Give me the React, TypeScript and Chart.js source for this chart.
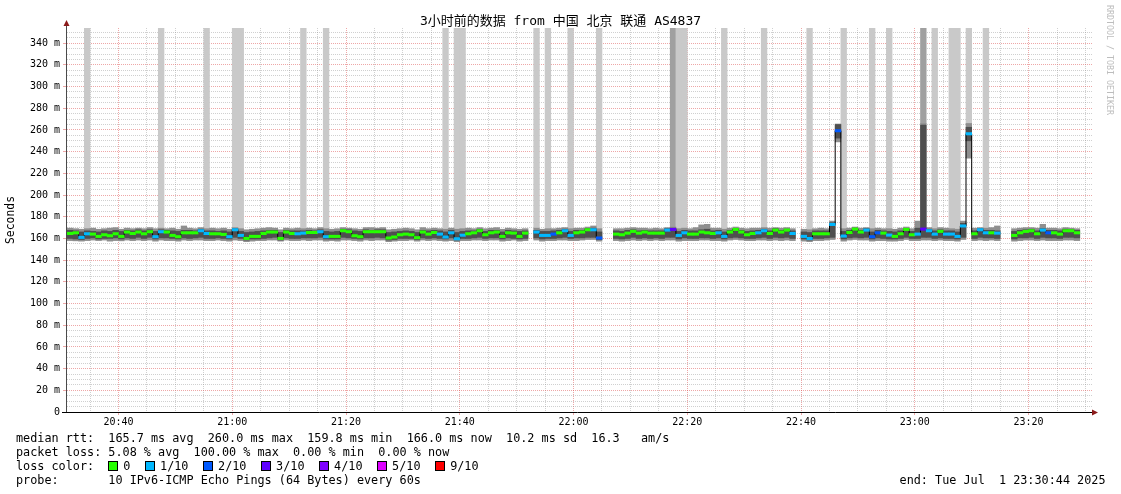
import React, { useEffect, useRef } from 'react';
import { Chart, registerables } from 'chart.js';

Chart.register(...registerables);

// ---------- data (one entry per 1-minute step, first step = minute 1 after 20:30) ----------
const FIRST_STEP = 1;

const MEDIAN: (number | null)[] = [
  164.6, 165.2, 161.0, 164.3, 164.0, 161.9, 163.4, 162.5, 164.3, 161.9,
  165.9, 164.6, 165.9, 164.3, 166.2, 161.6, 166.2, 165.9, 162.8, 161.6,
  165.2, 165.2, 165.2, 167.1, 164.6, 164.3, 164.3, 163.7, 161.6, 168.0,
  162.8, 160.0, 161.9, 161.9, 164.6, 165.9, 165.9, 160.0, 165.9, 164.6,
  164.3, 164.9, 165.5, 165.5, 166.2, 161.6, 161.9, 161.9, 167.1, 166.2,
  162.5, 161.6, 166.2, 166.2, 166.2, 166.2, 160.4, 161.3, 163.4, 164.0,
  163.4, 160.7, 165.9, 164.0, 165.5, 164.0, 161.3, 165.2, 159.7, 163.0,
  164.3, 165.2, 167.1, 163.4, 165.2, 165.9, 161.9, 165.2, 164.9, 161.9,
  164.9, null, 165.9, 162.8, 162.8, 164.0, 165.2, 167.1, 162.8, 165.2,
  165.9, 168.0, 168.0, 160.4, null, null, 164.0, 163.4, 164.9, 166.5,
  164.9, 165.9, 164.9, 164.9, 164.9, 167.7, 168.3, 162.8, 165.2, 164.0,
  164.0, 165.9, 165.2, 164.6, 165.2, 161.9, 165.9, 168.3, 165.9, 163.4,
  164.6, 165.2, 167.1, 164.6, 167.7, 165.9, 167.7, 164.6, null, 161.9,
  159.9, 164.3, 164.3, 164.3, 172.9, 259.3, 162.2, 165.5, 168.6, 165.9,
  167.7, 161.6, 165.2, 164.9, 163.1, 161.9, 164.3, 168.3, 163.4, 164.0,
  168.6, 167.1, 164.0, 166.5, 164.0, 164.0, 161.9, 171.5, 256.5, 164.3,
  168.0, 165.2, 165.2, 164.9, null, null, 162.8, 165.2, 166.5, 167.1,
  164.3, 167.7, 165.2, 165.2, 164.0, 167.1, 167.1, 165.2,
];

// lost pings per step (0..10)
const LOSS: number[] = [
  0, 0, 1, 1, 0, 0, 0, 0, 0, 0,
  0, 0, 0, 0, 0, 1, 1, 0, 0, 0,
  0, 0, 0, 1, 1, 0, 0, 0, 1, 1,
  1, 0, 0, 0, 0, 0, 0, 0, 0, 0,
  1, 1, 0, 0, 1, 1, 0, 0, 0, 0,
  0, 0, 0, 0, 0, 0, 0, 0, 0, 0,
  0, 0, 0, 0, 0, 1, 1, 1, 1, 1,
  0, 0, 0, 0, 0, 0, 0, 0, 0, 0,
  0, 0, 1, 1, 1, 2, 0, 1, 1, 0,
  0, 0, 1, 2, 0, 0, 0, 0, 0, 0,
  0, 0, 0, 0, 0, 1, 3, 1, 1, 0,
  0, 0, 0, 0, 1, 1, 0, 0, 0, 0,
  0, 1, 1, 0, 0, 0, 0, 1, 0, 1,
  1, 0, 0, 0, 1, 2, 1, 0, 0, 0,
  1, 2, 2, 0, 1, 0, 0, 0, 0, 1,
  3, 1, 1, 0, 1, 1, 1, 1, 1, 0,
  1, 1, 0, 1, 0, 0, 0, 0, 0, 0,
  0, 1, 2, 0, 0, 0, 0, 0,
];

// full-height smoke of lost pings (0 none, 1 light, 2 darker)
const LOST_SMOKE: number[] = [
  0, 0, 0, 1, 0, 0, 0, 0, 0, 0,
  0, 0, 0, 0, 0, 0, 1, 0, 0, 0,
  0, 0, 0, 0, 1, 0, 0, 0, 0, 1,
  1, 0, 0, 0, 0, 0, 0, 0, 0, 0,
  0, 1, 0, 0, 0, 1, 0, 0, 0, 0,
  0, 0, 0, 0, 0, 0, 0, 0, 0, 0,
  0, 0, 0, 0, 0, 0, 1, 0, 1, 1,
  0, 0, 0, 0, 0, 0, 0, 0, 0, 0,
  0, 0, 1, 0, 1, 0, 0, 0, 1, 0,
  0, 0, 0, 1, 0, 0, 0, 0, 0, 0,
  0, 0, 0, 0, 0, 0, 2, 1, 1, 0,
  0, 0, 0, 0, 0, 1, 0, 0, 0, 0,
  0, 0, 1, 0, 0, 0, 0, 0, 0, 0,
  1, 0, 0, 0, 0, 0, 1, 0, 0, 0,
  0, 1, 0, 0, 1, 0, 0, 0, 0, 0,
  2, 0, 1, 0, 0, 1, 1, 0, 1, 0,
  0, 1, 0, 0, 0, 0, 0, 0, 0, 0,
  0, 0, 0, 0, 0, 0, 0, 0,
];

const SMOKE_MIN: (number | null)[] = [
  158.0, 157.8, 157.5, 158.0, 158.5, 158.0, 158.5, 157.5, 158.0, 157.8,
  158.5, 158.0, 158.5, 158.0, 158.5, 157.5, 158.5, 158.0, 158.0, 157.5,
  158.5, 158.0, 158.5, 158.5, 158.0, 158.0, 158.5, 158.0, 157.5, 158.5,
  158.0, 157.0, 157.5, 158.0, 158.0, 158.5, 158.5, 157.5, 158.5, 158.0,
  158.0, 158.5, 158.0, 158.5, 158.5, 157.5, 158.0, 157.5, 158.5, 158.5,
  158.0, 157.5, 158.5, 158.0, 158.5, 158.5, 157.0, 157.5, 158.0, 158.0,
  158.5, 157.5, 158.5, 158.0, 158.5, 158.0, 157.5, 158.0, 157.0, 158.0,
  158.0, 158.5, 158.5, 158.0, 158.5, 158.5, 157.5, 158.0, 158.5, 157.5,
  158.0, null, 158.5, 157.5, 158.0, 158.0, 158.5, 158.5, 158.0, 158.0,
  158.5, 159.0, 159.0, 157.5, null, null, 158.0, 157.5, 158.0, 158.5,
  158.0, 158.5, 158.0, 158.5, 158.0, 158.5, 158.5, 157.5, 158.0, 158.0,
  158.0, 158.5, 158.5, 158.0, 158.0, 157.5, 158.5, 159.0, 158.5, 158.0,
  158.0, 158.5, 158.5, 158.0, 158.5, 158.0, 158.5, 158.0, null, 157.5,
  157.0, 158.0, 158.0, 158.5, 159.0, 249.0, 157.5, 158.5, 159.0, 158.5,
  158.5, 157.5, 158.0, 158.0, 157.5, 157.5, 158.0, 159.0, 158.0, 158.0,
  158.5, 158.5, 158.0, 158.5, 158.0, 158.0, 157.5, 159.0, 234.0, 158.0,
  158.5, 158.0, 158.5, 158.0, null, null, 157.5, 158.0, 158.5, 158.5,
  158.0, 158.5, 158.0, 158.0, 158.0, 158.5, 158.5, 158.0,
];

const SMOKE_MAX: (number | null)[] = [
  169.5, 169.0, 168.5, 169.0, 169.5, 168.5, 169.0, 169.5, 170.0, 168.5,
  169.5, 169.0, 169.5, 169.0, 170.0, 169.0, 169.5, 169.0, 169.5, 168.5,
  171.5, 169.5, 169.0, 170.0, 169.0, 169.5, 169.0, 169.5, 168.5, 170.0,
  169.0, 168.0, 168.5, 169.0, 169.5, 170.0, 169.5, 168.0, 169.5, 169.0,
  169.5, 169.0, 169.5, 169.0, 170.0, 169.0, 168.5, 169.0, 170.0, 169.5,
  169.0, 168.5, 170.0, 170.0, 169.5, 170.0, 168.0, 168.5, 169.0, 169.5,
  169.0, 168.0, 170.0, 169.0, 169.5, 169.0, 168.5, 169.5, 168.5, 169.0,
  169.5, 169.0, 170.0, 169.0, 169.5, 170.0, 168.5, 169.5, 169.0, 168.5,
  169.0, null, 169.5, 168.5, 169.0, 169.0, 169.5, 170.0, 169.0, 169.5,
  169.5, 170.5, 171.5, 169.0, null, null, 169.0, 169.0, 169.5, 170.0,
  169.5, 169.5, 169.0, 169.5, 169.0, 170.0, 170.5, 169.0, 169.5, 169.0,
  170.0, 172.5, 173.0, 169.5, 169.5, 168.5, 169.5, 170.5, 169.5, 169.0,
  169.5, 169.5, 170.0, 169.5, 170.0, 169.5, 170.0, 169.0, null, 168.5,
  168.0, 169.0, 169.5, 169.0, 176.0, 265.5, 169.0, 169.5, 170.5, 169.5,
  170.0, 169.0, 169.5, 169.0, 169.0, 168.5, 169.5, 170.5, 169.0, 176.0,
  266.0, 170.0, 169.0, 170.0, 169.5, 169.0, 168.5, 176.0, 266.0, 169.5,
  170.0, 169.5, 170.0, 171.5, null, null, 169.0, 169.5, 170.0, 170.0,
  169.5, 173.0, 169.5, 169.5, 169.0, 170.0, 169.5, 169.0,
];

const CORE_MIN: (number | null)[] = [
  160.0, 159.5, 159.0, 160.0, 160.5, 159.5, 160.0, 160.0, 160.5, 159.5,
  160.5, 160.0, 161.0, 160.0, 161.0, 159.5, 160.5, 160.5, 160.0, 159.5,
  160.5, 160.0, 160.5, 161.0, 160.0, 160.0, 160.5, 160.0, 159.5, 161.0,
  160.0, 158.5, 159.5, 159.5, 160.0, 160.5, 161.0, 158.5, 160.5, 160.0,
  160.0, 160.5, 160.5, 160.5, 161.0, 159.5, 159.5, 159.5, 161.0, 160.5,
  160.0, 159.5, 160.5, 160.5, 161.0, 160.5, 158.5, 159.0, 160.0, 160.0,
  160.0, 159.0, 160.5, 160.0, 160.5, 160.0, 159.5, 160.5, 158.5, 160.0,
  160.0, 160.5, 161.0, 160.0, 160.5, 160.5, 159.5, 160.5, 160.0, 159.5,
  160.0, null, 160.5, 159.5, 160.0, 160.0, 160.5, 161.0, 160.0, 160.5,
  160.5, 161.0, 161.0, 159.0, null, null, 160.0, 159.5, 160.0, 161.0,
  160.0, 160.5, 160.0, 160.5, 160.0, 161.0, 161.0, 159.5, 160.5, 160.0,
  160.0, 160.5, 160.5, 160.0, 160.5, 159.5, 160.5, 161.0, 160.5, 160.0,
  160.0, 160.5, 161.0, 160.0, 161.0, 160.5, 161.0, 160.0, null, 159.5,
  158.5, 160.0, 160.0, 160.5, 161.0, 252.5, 159.5, 160.5, 161.0, 160.5,
  161.0, 159.5, 160.5, 160.0, 159.5, 159.5, 160.0, 161.0, 160.0, 160.0,
  161.0, 161.0, 160.0, 160.5, 160.0, 160.0, 159.5, 161.0, 250.0, 160.0,
  161.0, 160.5, 160.5, 160.0, null, null, 159.5, 160.5, 160.5, 161.0,
  160.0, 161.0, 160.5, 160.5, 160.0, 161.0, 161.0, 160.5,
];

const CORE_MAX: (number | null)[] = [
  167.5, 167.0, 166.0, 167.0, 166.5, 166.0, 167.0, 166.5, 167.5, 166.5,
  167.5, 167.0, 168.0, 167.0, 168.0, 166.5, 168.0, 167.5, 167.0, 166.5,
  167.5, 167.5, 167.0, 168.5, 167.0, 167.0, 166.5, 167.0, 166.0, 169.0,
  166.5, 165.5, 166.0, 166.5, 167.0, 167.5, 167.5, 165.5, 167.5, 167.0,
  167.0, 167.0, 167.5, 167.0, 168.0, 166.5, 166.0, 166.5, 168.5, 168.0,
  167.0, 166.5, 168.0, 167.5, 168.0, 168.0, 165.5, 166.0, 166.5, 167.0,
  166.5, 165.5, 167.5, 167.0, 167.5, 167.0, 166.0, 167.5, 165.5, 166.5,
  167.0, 167.0, 168.5, 166.5, 167.5, 167.5, 166.0, 167.5, 167.0, 166.5,
  167.0, null, 167.5, 166.5, 166.5, 167.0, 167.5, 168.5, 166.5, 167.5,
  167.5, 169.0, 169.5, 166.0, null, null, 167.0, 166.5, 167.5, 168.0,
  167.0, 167.5, 167.0, 167.0, 167.0, 169.0, 169.5, 166.5, 167.5, 167.0,
  167.0, 168.0, 168.5, 167.0, 167.5, 166.0, 167.5, 169.0, 167.5, 166.5,
  167.0, 167.5, 168.5, 167.0, 169.0, 167.5, 168.5, 167.0, null, 166.0,
  165.5, 167.0, 167.0, 167.0, 174.5, 265.0, 166.5, 167.5, 169.5, 167.5,
  169.0, 166.0, 167.5, 167.0, 166.5, 166.0, 167.0, 169.0, 166.5, 169.5,
  264.5, 168.5, 167.0, 168.0, 167.0, 167.0, 166.0, 174.0, 262.5, 167.0,
  169.0, 167.5, 167.5, 167.0, null, null, 166.5, 167.5, 168.0, 168.5,
  167.0, 169.0, 167.5, 167.5, 167.0, 168.5, 168.0, 167.5,
];

// axis: minutes after 20:30
const X_MIN = 0.95;
const X_MAX = 181.15;
const Y_MAX = 354;
const TIME_TICK_MINUTES = [10, 30, 50, 70, 90, 110, 130, 150, 170];
const TIME_TICK_LABELS = ['20:40', '21:00', '21:20', '21:40', '22:00', '22:20', '22:40', '23:00', '23:20'];

const LOSS_COLORS = ['#26ff00', '#00b8ff', '#0059ff', '#5e00ff', '#7e00ff', '#dd00ff', '#ff0000', '#ff0000', '#ff0000', '#ff0000'];
const LEGEND_LABELS = ['0', '1/10', '2/10', '3/10', '4/10', '5/10', '9/10'];
const LEGEND_COLORS = ['#26ff00', '#00b8ff', '#0059ff', '#5e00ff', '#7e00ff', '#dd00ff', '#ff0000'];

const TITLE = '3小时前的数据 from 中国 北京 联通 AS4837';
const LINE_RTT = 'median rtt:  165.7 ms avg  260.0 ms max  159.8 ms min  166.0 ms now  10.2 ms sd  16.3   am/s';
const LINE_LOSS = 'packet loss: 5.08 % avg  100.00 % max  0.00 % min  0.00 % now';
const LINE_PROBE = 'probe:       10 IPv6-ICMP Echo Pings (64 Bytes) every 60s';
const LINE_END = 'end: Tue Jul  1 23:30:44 2025';

// ---------- styles ----------
const MONO = "'DejaVu Sans Mono', monospace";
const TITLE_FONT = "'DejaVu Sans Mono', 'Noto Sans CJK SC', monospace";
const GRID = 'rgba(143,143,143,0.42)';
const MGRID = 'rgba(222,80,80,0.5)';
const SMOKE_OUTER = '#8f8f8f';
const SMOKE_CORE = '#4f4f4f';
const LOST_SHADES = ['transparent', '#c9c9c9', '#a0a0a0'];

const rrdAxes = {
  id: 'rrdAxes',
  afterDraw(chart: any) {
    const { ctx, chartArea: a } = chart;
    ctx.save();
    ctx.lineWidth = 1;
    ctx.strokeStyle = '#4a4a4a';
    ctx.beginPath();
    ctx.moveTo(a.left - 0.5, a.bottom + 1);
    ctx.lineTo(a.left - 0.5, a.top - 4);
    ctx.stroke();
    ctx.strokeStyle = '#000';
    ctx.beginPath();
    ctx.moveTo(a.left - 5, a.bottom + 0.5);
    ctx.lineTo(a.right + 1, a.bottom + 0.5);
    ctx.stroke();
    ctx.fillStyle = '#8b1a1a';
    ctx.beginPath();
    ctx.moveTo(a.left - 0.5, a.top - 8);
    ctx.lineTo(a.left - 3.5, a.top - 2);
    ctx.lineTo(a.left + 2.5, a.top - 2);
    ctx.closePath();
    ctx.fill();
    ctx.beginPath();
    ctx.moveTo(a.right + 6, a.bottom + 0.5);
    ctx.lineTo(a.right, a.bottom - 2.5);
    ctx.lineTo(a.right, a.bottom + 3.5);
    ctx.closePath();
    ctx.fill();
    ctx.restore();
  },
};

export default function App() {
  const canvasRef = useRef<HTMLCanvasElement>(null);

  useEffect(() => {
    if (!canvasRef.current) return;
    const lost: any[] = [];
    const lostColors: string[] = [];
    const outer: any[] = [];
    const core: any[] = [];
    const med: any[] = [];
    const medColors: string[] = [];
    const line: any[] = [];
    MEDIAN.forEach((m, k) => {
      const x = FIRST_STEP + k + 0.5;
      line.push({ x, y: m });
      if (m === null) return;
      outer.push({ x, y: [SMOKE_MIN[k], SMOKE_MAX[k]] });
      core.push({ x, y: [CORE_MIN[k], CORE_MAX[k]] });
      med.push({ x, y: [m - 1.1, m + 1.1] });
      medColors.push(LOSS_COLORS[LOSS[k]]);
      if (LOST_SMOKE[k]) {
        lost.push({ x, y: [SMOKE_MAX[k], Y_MAX] });
        lostColors.push(LOST_SHADES[LOST_SMOKE[k]]);
      }
    });

    const barCommon = { grouped: false, barPercentage: 1, categoryPercentage: 1, borderWidth: 0 };
    const minorX: number[] = [];
    for (let v = 5; v <= 180; v += 5) minorX.push(v);
    const minorY: number[] = [];
    for (let v = 0; v <= 350; v += 5) minorY.push(v);

    const chart = new Chart(canvasRef.current, {
      type: 'bar',
      data: {
        datasets: [
          { type: 'bar', data: lost, backgroundColor: lostColors, order: 5, ...barCommon } as any,
          { type: 'bar', data: outer, backgroundColor: SMOKE_OUTER, order: 4, ...barCommon } as any,
          { type: 'bar', data: core, backgroundColor: SMOKE_CORE, order: 3, ...barCommon } as any,
          {
            type: 'line', data: line, borderColor: '#000', borderWidth: 1, pointRadius: 0,
            stepped: 'middle', spanGaps: false, order: 2,
          } as any,
          { type: 'bar', data: med, backgroundColor: medColors, order: 1, ...barCommon } as any,
        ],
      },
      options: {
        responsive: false,
        animation: false,
        devicePixelRatio: 1,
        events: [],
        layout: { padding: { top: 28, right: 29, bottom: 0, left: 0 } },
        plugins: { legend: { display: false }, tooltip: { enabled: false }, title: { display: false } },
        scales: {
          x: {
            type: 'linear',
            min: X_MIN,
            max: X_MAX,
            offset: false,
            afterBuildTicks: (s: any) => { s.ticks = minorX.map((v) => ({ value: v })); },
            afterFit: (s: any) => { s.height = 82; },
            ticks: {
              autoSkip: false,
              maxRotation: 0,
              padding: 1.5,
              color: '#000',
              font: { family: MONO, size: 10 },
              callback: (v: any) => {
                const i = TIME_TICK_MINUTES.indexOf(Number(v));
                return i >= 0 ? TIME_TICK_LABELS[i] : '';
              },
            },
            grid: {
              offset: false,
              lineWidth: 1,
              color: (c: any) => (c.tick && c.tick.value % 20 === 10 ? MGRID : GRID),
              tickColor: (c: any) => (c.tick && c.tick.value % 20 === 10 ? MGRID : 'transparent'),
              tickLength: 3,
            },
            border: { display: false, dash: [1, 1] },
          },
          y: {
            type: 'linear',
            min: 0,
            max: Y_MAX,
            afterBuildTicks: (s: any) => { s.ticks = minorY.map((v) => ({ value: v })); },
            afterFit: (s: any) => { s.width = 67; },
            ticks: {
              autoSkip: false,
              padding: 3,
              color: '#000',
              font: { family: MONO, size: 10 },
              callback: (v: any) => {
                const n = Number(v);
                if (n % 20 !== 0) return '';
                return n === 0 ? '0' : `${n} m`;
              },
            },
            grid: {
              lineWidth: 1,
              color: (c: any) => {
                const v = c.tick ? c.tick.value : -1;
                if (v === 0) return 'transparent';
                return v % 20 === 0 ? MGRID : GRID;
              },
              tickColor: (c: any) => (c.tick && c.tick.value % 20 === 0 ? MGRID : 'transparent'),
              tickLength: 4,
            },
            border: { display: false, dash: [1, 1] },
            title: {
              display: true,
              text: 'Seconds',
              color: '#000',
              font: { family: MONO, size: 11.4 },
              padding: { top: 4, bottom: 0 },
            },
          },
        },
      } as any,
      plugins: [rrdAxes],
    });
    return () => chart.destroy();
  }, []);

  const textBase: React.CSSProperties = {
    position: 'absolute', font: `11.8px ${MONO}`, lineHeight: '14px', whiteSpace: 'pre', color: '#000',
  };

  return (
    <div style={{ position: 'fixed', left: 0, top: 0, width: 1121, height: 494, background: '#fff', overflow: 'hidden' }}>
      <canvas ref={canvasRef} width={1121} height={494} style={{ position: 'absolute', left: 0, top: 0, width: 1121, height: 494 }} />
      <div style={{ position: 'absolute', left: 0, top: 13, width: 1121, textAlign: 'center', font: `13px ${TITLE_FONT}`, lineHeight: '16px', whiteSpace: 'pre', color: '#000' }}>
        {TITLE}
      </div>
      <div style={{ position: 'absolute', left: 1105, top: 5, writingMode: 'vertical-rl', font: `8.3px ${MONO}`, lineHeight: '10px', color: '#bdbdbd', whiteSpace: 'pre' }}>
        RRDTOOL / TOBI OETIKER
      </div>
      <div style={{ ...textBase, left: 16, top: 431 }}>
        <div>{LINE_RTT}</div>
        <div>{LINE_LOSS}</div>
        <div>
          {'loss color:  '}
          {LEGEND_LABELS.map((label, i) => (
            <span key={label}>
              <span style={{ display: 'inline-block', width: 8, height: 8, border: '1px solid #000', background: LEGEND_COLORS[i], marginRight: 5, verticalAlign: '-1px' }} />
              <span style={{ marginRight: 14.6 }}>{label}</span>
            </span>
          ))}
        </div>
        <div>{LINE_PROBE}</div>
      </div>
      <div style={{ ...textBase, right: 15.5, top: 473 }}>{LINE_END}</div>
    </div>
  );
}
